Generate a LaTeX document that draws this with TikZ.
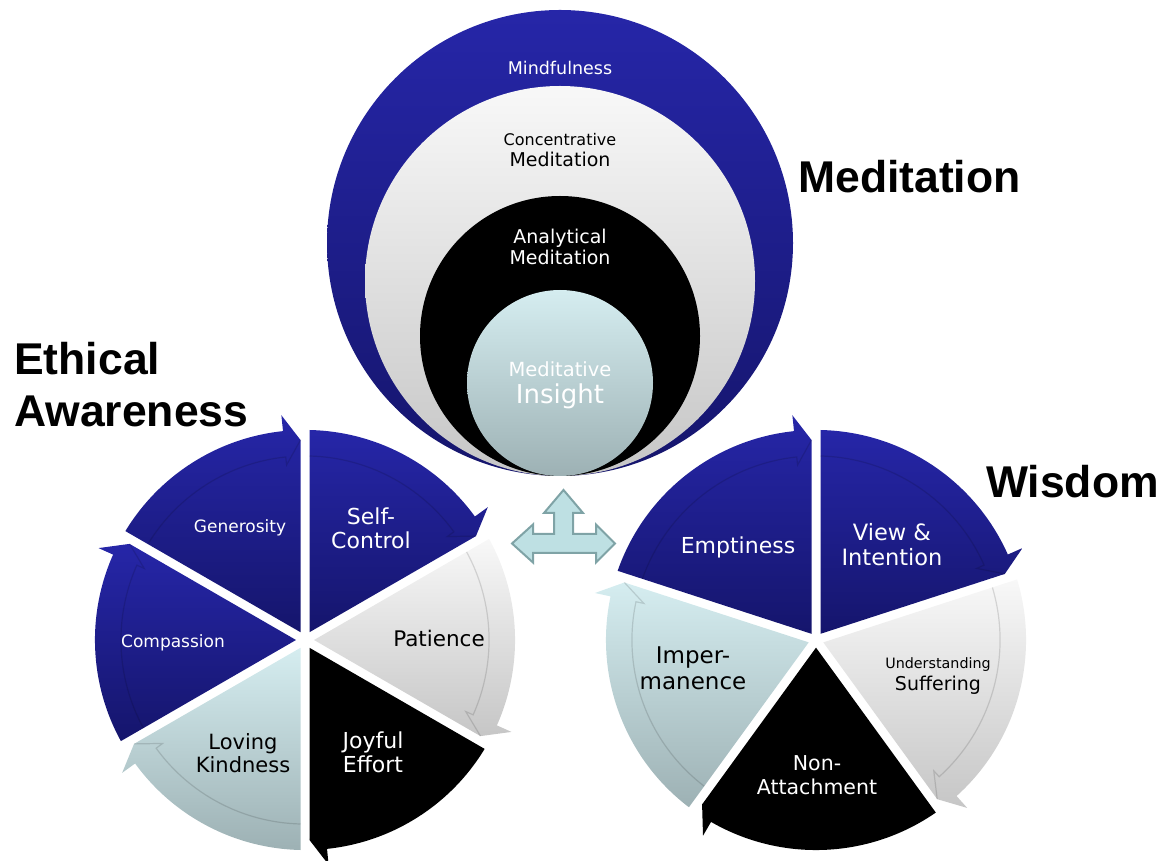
\documentclass[tikz,border=0pt]{standalone}
\usepackage{fontspec}
\setmainfont{DejaVu Sans}
\newfontfamily\headfont{Liberation Sans}
\usetikzlibrary{calc}

\definecolor{deepblue}{HTML}{2626A8}
\definecolor{deepbluedk}{HTML}{15156C}
\definecolor{paleg}{HTML}{F8F8F8}
\definecolor{paleg2}{HTML}{C6C6C6}
\definecolor{icy}{HTML}{D5EDF0}
\definecolor{icy2}{HTML}{9DB1B4}
\definecolor{tealline}{HTML}{7FA3A6}
\definecolor{tealfill}{HTML}{BEE0E3}

\newcommand{\fsz}[2]{\fontsize{#1}{#2}\selectfont}
% wedge from angle #1 down to #2 (clockwise), arrow head at its end
\newcommand{\wedgearrow}[3]{%
  \path[#3] ({(#1+#2)/2}:{4.5/sin((#1-#2)/2)}) -- ($(#1:210)+(#1-90:4.5)$)
    arc[start angle=#1-1.23, end angle=#2+6, radius=210] -- (#2+6:226)
    -- ($(#2:200)+(#2+90:4.5)$) -- cycle;
  \draw[bandline] ($(#1:184)+(#1-90:4.5)$) arc[start angle=#1-1.4, end angle=#2+6, radius=184]
    -- (#2+6:176) -- ($(#2:200)+(#2+90:4.5)$);
}

\begin{document}
\begin{tikzpicture}[x=1pt, y=1pt,
    bluefill/.style={top color=deepblue, bottom color=deepbluedk},
    greyfill/.style={top color=paleg, bottom color=paleg2},
    icyfill/.style={top color=icy, bottom color=icy2},
    blackfill/.style={fill=black},
    bandline/.style={draw=black, draw opacity=0.13, line width=1.2pt},
    wtext/.style={text=white, align=center, inner sep=0pt},
    btext/.style={text=black, align=center, inner sep=0pt},
    heading/.style={font=\headfont\bfseries\fsz{44.5}{50}, inner sep=0pt, anchor=base west}]
\useasboundingbox (0,0) rectangle (1168,860);

% nested circles
\path[bluefill] (560,617) circle[radius=233];
\path[greyfill] (560,579) circle[radius=195];
\path[fill=black] (560,524) circle[radius=140];
\path[icyfill] (560,477) circle[radius=93];
\node[wtext, font=\fsz{17.5}{20}] (mindful) at (560,792) {Mindfulness};
\node[btext] (concentr) at (560,710) {\fsz{16}{18}Concentrative\\[5pt]\fsz{19}{20}Meditation};
\node[wtext, font=\fsz{19}{21}] (analytic) at (560,613) {Analytical\\Meditation};
\node[wtext] (insight) at (560,475) {\fsz{19.5}{21}Meditative\\[6pt]\fsz{26}{25}Insight};

% left wheel
\begin{scope}[shift={(305,220)}]
  \wedgearrow{90}{30}{bluefill}
  \wedgearrow{30}{-30}{greyfill}
  \wedgearrow{-30}{-90}{blackfill}
  \wedgearrow{-90}{-150}{icyfill}
  \wedgearrow{210}{150}{bluefill}
  \wedgearrow{150}{90}{bluefill}
\end{scope}
\node[wtext, font=\fsz{17}{20}] (generosity) at (240,332) {Generosity};
\node[wtext, font=\fsz{22}{24}] (selfctl) at (371,332) {Self-\\Control};
\node[btext, font=\fsz{21.5}{24}] (patience) at (439,222) {Patience};
\node[wtext, font=\fsz{17}{20}] (compassion) at (173,217) {Compassion};
\node[btext, font=\fsz{21}{23}] (loving) at (243,107) {Loving\\Kindness};
\node[wtext, font=\fsz{22}{24}] (joyful) at (373,108) {Joyful\\Effort};

% right wheel
\begin{scope}[shift={(816,220)}]
  \wedgearrow{90}{18}{bluefill}
  \wedgearrow{18}{-54}{greyfill}
  \wedgearrow{-54}{-126}{blackfill}
  \wedgearrow{-126}{-198}{icyfill}
  \wedgearrow{162}{90}{bluefill}
\end{scope}
\node[wtext, font=\fsz{22}{24}] (emptiness) at (738,313) {Emptiness};
\node[wtext, font=\fsz{22.5}{25}] (view) at (892,315) {View \&\\Intention};
\node[btext] (suffering) at (938,184) {\fsz{14.3}{16}Understanding\\[4pt]\fsz{19}{20}Suffering};
\node[wtext, font=\fsz{20.5}{24}] (nonattach) at (817,85) {Non-\\Attachment};
\node[btext, font=\fsz{23}{26}] (imperm) at (693,192) {Imper-\\manence};

% three way arrow between the wheels
\draw[fill=tealfill, draw=tealline, line width=2pt, line join=miter]
  (563.5,370) -- (583,347) -- (573,347) -- (573,326) -- (596,326) -- (596,335.5)
  -- (615,316.5) -- (596,297.5) -- (596,307) -- (533,307) -- (533,297.5)
  -- (512,316.5) -- (533,335.5) -- (533,326) -- (554,326) -- (554,347)
  -- (544,347) -- cycle;

% headings
\node[heading] (medhead) at (798,667) {Meditation};
\node[heading] (ethhead) at (14,485) {Ethical};
\node[heading] (awarehead) at (14,433) {Awareness};
\node[heading] (wishead) at (986,362) {Wisdom};
\end{tikzpicture}
\end{document}
